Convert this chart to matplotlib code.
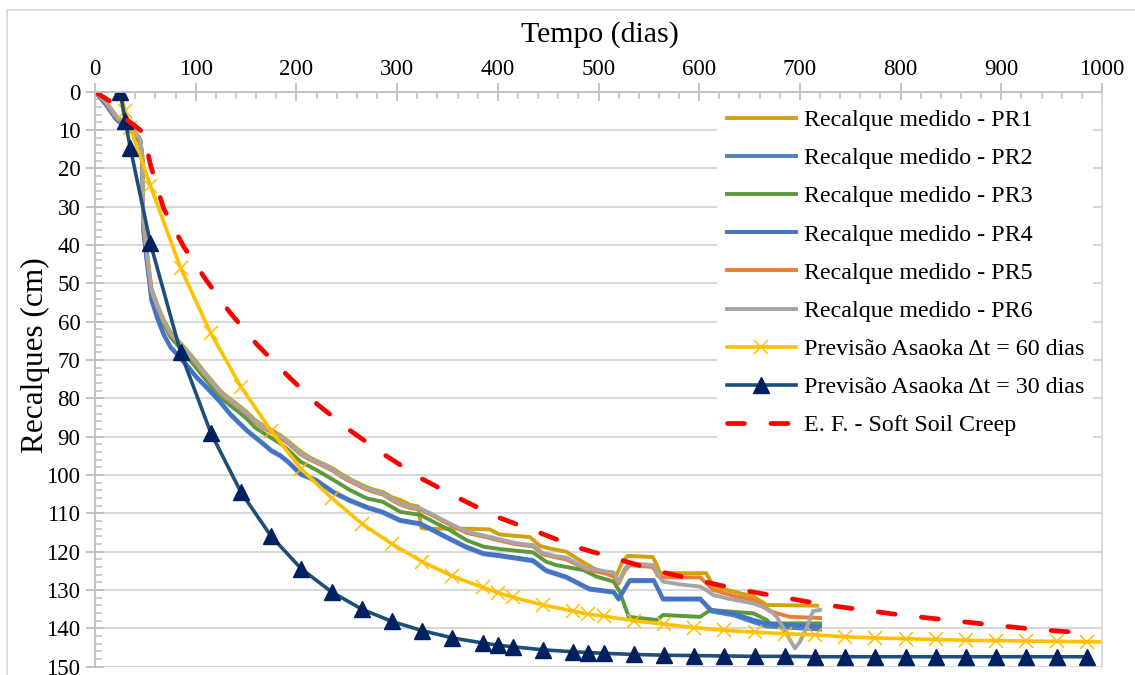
import matplotlib
matplotlib.use("Agg")
import matplotlib.pyplot as plt
from matplotlib.ticker import MultipleLocator
from matplotlib.patches import Rectangle

plt.rcParams['font.family'] = ['Liberation Serif', 'DejaVu Serif']

# ---------------- dados ----------------
# Recalque medido - PR6 (cinza)
t_pr6 = [0, 10, 21, 30, 38, 45, 47, 48, 51, 56, 62, 68, 75, 84, 92, 101, 109, 117, 125, 134,
         142, 151, 159, 167, 175, 184, 192, 204, 212, 220, 228, 237, 245, 253, 262, 270, 278, 286,
         295, 303, 313, 323, 336, 352, 369, 385, 402, 419, 435, 445, 458, 468, 478, 488, 500, 508,
         515, 520, 526, 531, 545, 554, 559, 564, 580, 601, 607, 614, 630, 654, 662, 670, 677, 683,
         689, 695, 700, 707, 713, 720]
r_pr6 = [0, 2.5, 6.5, 8.5, 10, 12.6, 17, 34, 41, 51.7, 56, 59.6, 63, 65.6, 68, 70.9, 73.5, 76, 78.5, 80.4,
         82, 83.9, 86, 87.4, 88.5, 90, 91.5, 94.3, 95.5, 96.5, 97.5, 98.7, 100.2, 101.3, 102.5, 103.5, 104.2, 104.8,
         106.3, 107.4, 108.3, 108.7, 110.4, 112.6, 114.8, 115.7, 116.8, 117.8, 118.3, 120.4, 121.2, 121.5, 123, 124.3, 124.8, 125.2,
         125.4, 127.8, 124.5, 123, 123.3, 123.5, 126, 127.8, 128.5, 129.1, 130, 131.3, 132.3, 133.5, 134.3, 135.2, 137, 139.6,
         142.5, 145.2, 143.5, 139.6, 135.5, 135.2]

# Recalque medido - PR1 (dourado)
t_pr1 = [0, 10, 21, 30, 38, 45, 47, 48, 51, 56, 62, 68, 75, 84, 92, 101, 109, 117, 125, 134,
         142, 151, 159, 167, 175, 184, 192, 204, 212, 220, 228, 237, 245, 253, 262, 270, 278, 286,
         295, 303, 313, 321, 324, 330, 369, 392, 402, 432, 442, 452, 468, 478, 495, 505, 518, 523,
         529, 554, 558, 561, 607, 614, 631, 654, 667, 717]
r_pr1 = [0, 2.3, 6.3, 8.3, 9.8, 12.4, 16.5, 33.5, 40.5, 51.3, 55.6, 59.3, 62.7, 65.3, 67.7, 70.5, 73.2, 75.7, 78.2, 80.1,
         81.7, 83.6, 85.7, 87, 88.2, 89.6, 91.2, 93.8, 95.2, 96.3, 97.2, 98.4, 99.8, 101, 102.2, 103.2, 103.9, 104.4,
         105.8, 106.5, 107.8, 108.2, 113.8, 114, 114, 114.2, 115.5, 116.2, 118.5, 119.2, 120, 121.7, 124.3, 125.4, 126.1, 123,
         121.1, 121.4, 123.5, 125.6, 125.6, 129, 130.2, 131.7, 133.9, 134.1]

# Recalque medido - PR5 (laranja)
t_pr5 = [0, 10, 21, 30, 38, 45, 47, 48, 51, 56, 62, 68, 75, 84, 92, 101, 109, 117, 125, 134,
         142, 151, 159, 167, 175, 184, 192, 204, 212, 220, 228, 237, 245, 253, 262, 270, 278, 286,
         295, 303, 313, 323, 336, 352, 369, 385, 402, 419, 435, 445, 458, 468, 478, 488, 500, 508,
         515, 520, 526, 531, 545, 554, 559, 564, 601, 614, 634, 654, 670, 683, 690, 720]
r_pr5 = [0, 2.6, 6.7, 8.7, 10.2, 12.8, 17.3, 34.3, 41.3, 52, 56.3, 59.9, 63.3, 65.9, 68.3, 71.2, 73.8, 76.3, 78.8, 80.7,
         82.3, 84.2, 86.3, 87.7, 88.8, 90.3, 91.8, 94.6, 95.8, 96.8, 97.8, 99, 100.5, 101.6, 102.8, 103.8, 104.5, 105.1,
         106.6, 107.7, 108.6, 109, 110.7, 112.9, 115.1, 116, 117.1, 118.1, 118.6, 120.7, 121.5, 122, 123.3, 124.6, 125.3, 125.8,
         126.5, 128.3, 125, 123.5, 123.8, 124, 126.3, 126.7, 126.7, 130, 131.5, 132.6, 135.5, 136.5, 137, 137.3]

# Recalque medido - PR3 (verde)
t_pr3 = [0, 10, 21, 30, 38, 45, 47, 48, 51, 56, 62, 68, 75, 84, 92, 101, 109, 117, 125, 134,
         142, 151, 159, 167, 175, 184, 192, 204, 220, 237, 253, 270, 286, 303, 323, 336, 352, 369,
         386, 402, 435, 448, 458, 485, 498, 515, 521, 530, 558, 564, 601, 611, 654, 667, 670, 720]
r_pr3 = [0, 2.7, 6.8, 8.8, 10.3, 12.9, 17.5, 35, 42, 52.8, 57, 60.6, 64, 66.7, 69.2, 72.2, 74.8, 77.3, 79.8, 81.8,
         83.4, 85.4, 87.6, 89, 90.3, 91.8, 93.5, 96.5, 98.7, 101.3, 103.9, 106.1, 107, 109.6, 110.4, 112.2, 114.3, 117,
         118.7, 119.3, 120.2, 122.6, 123.5, 124.8, 126.5, 127.8, 130.4, 137, 137.8, 136.5, 137, 135.2, 136.1, 137.8, 138.7, 138.7]

# Recalque medido - PR4 (azul)
t_pr4 = [0, 10, 21, 30, 38, 45, 47, 48, 51, 56, 62, 68, 75, 84, 92, 101, 109, 117, 125, 134,
         142, 151, 159, 167, 175, 184, 192, 204, 220, 237, 253, 270, 286, 303, 323, 336, 352, 369,
         386, 402, 435, 448, 468, 491, 515, 520, 531, 555, 564, 601, 612, 634, 654, 667, 720]
r_pr4 = [0, 3, 7, 9, 10.5, 13, 18, 36, 43, 54, 59, 63, 66.5, 69.1, 71.5, 74.4, 76.5, 78.7, 81, 83.9,
         86, 88.3, 90, 91.7, 93.5, 94.8, 96.5, 99.6, 101.3, 104.4, 106.5, 108.3, 109.6, 111.7, 112.6, 114.3, 116.5, 118.7,
         120.4, 120.9, 122.2, 124.8, 126.5, 129.6, 130.4, 132.2, 127.4, 127.4, 132.2, 132.2, 135.2, 136.1, 137.8, 138.7, 139.6]

# Recalque medido - PR2 (azul aco), quase sob o PR4
t_pr2 = [0, 10, 21, 30, 38, 45, 47, 48, 51, 56, 62, 68, 75, 84, 92, 101, 109, 117, 125, 134,
         142, 151, 159, 167, 175, 184, 192, 204, 220, 237, 253, 270, 286, 303, 323, 336, 352, 369,
         386, 402, 435, 448, 468, 491, 515, 520, 531, 555, 564, 601, 612, 634, 654, 667, 720]
r_pr2 = [0, 3.2, 7.3, 9.3, 10.8, 13.3, 18.5, 36.5, 43.5, 54.5, 59.4, 63.4, 66.8, 69.4, 71.8, 74.7, 76.8, 79, 81.3, 84.2,
         86.3, 88.6, 90.3, 92, 93.8, 95.1, 96.8, 99.9, 101.6, 104.7, 106.8, 108.6, 109.9, 112, 112.9, 114.6, 116.8, 119,
         120.7, 121.2, 122.5, 125.1, 126.8, 129.9, 130.7, 132.5, 127.7, 127.7, 132.5, 132.5, 135.6, 136.6, 138.4, 139.5, 140.3]

# Previsao Asaoka dt = 60 dias
t_a60 = [25, 30, 35, 55, 85, 115, 145, 175, 205, 235, 265, 295, 325, 355, 385, 400, 415, 445,
         475, 490, 505, 535, 565, 595, 625, 655, 685, 715, 745, 775, 805, 835, 865, 895, 925,
         955, 985, 1000]
r_a60 = [0, 5, 9.5, 24.5, 46, 63, 77, 88.5, 98.5, 106, 112.7, 118, 122.6, 126.4, 129.3, 130.7, 131.9, 133.9,
         135.5, 136.3, 136.8, 138, 138.9, 139.8, 140.5, 141, 141.4, 141.7, 142.2, 142.5, 142.7, 142.9, 143.1, 143.2, 143.3,
         143.4, 143.5, 143.5]

# Previsao Asaoka dt = 30 dias
t_a30 = [25, 30, 35, 55, 85, 115, 145, 175, 205, 235, 265, 295, 325, 355, 385, 400, 415, 445,
         475, 490, 505, 535, 565, 595, 625, 655, 685, 715, 745, 775, 805, 835, 865, 895, 925,
         955, 985]
r_a30 = [0, 7.6, 14.6, 39.5, 68, 89, 104.5, 116, 124.5, 130.5, 135, 138.2, 140.6, 142.5, 143.8, 144.4, 144.8, 145.6,
         146.1, 146.3, 146.5, 146.8, 147, 147.1, 147.2, 147.3, 147.3, 147.4, 147.4, 147.4, 147.4, 147.4, 147.4, 147.4, 147.4,
         147.4, 147.4]

# E. F. - Soft Soil Creep
t_ef = [0, 15, 30, 45, 50, 55, 68, 88, 110, 134, 161, 191, 221, 254, 288, 324, 361, 399, 439, 478,
        520, 561, 601, 642, 683, 726, 800, 898, 931, 988]
r_ef = [0, 2.5, 7, 10, 13, 19, 30.4, 40.4, 49, 57.6, 66, 74, 81.6, 88.5, 94.8, 100.9, 106, 110.9, 114.8, 118.8,
        122, 125.2, 127.6, 130, 131.9, 133.9, 136.5, 139.3, 140.2, 141.3]

# --------------------------------------------------------
W, H = 1135, 675
fig = plt.figure(figsize=(W / 100, H / 100), dpi=100)
ax = fig.add_axes([95 / W, 8.3 / H, (1102 - 95) / W, (666.7 - 91.7) / H])

lw_m = 2.8
ax.plot(t_pr1, r_pr1, color='#D4A010', lw=lw_m, label='Recalque medido - PR1')
ax.plot(t_pr2, r_pr2, color='#4F81BD', lw=lw_m, label='Recalque medido - PR2')
ax.plot(t_pr3, r_pr3, color='#5B9A3C', lw=lw_m, label='Recalque medido - PR3')
ax.plot(t_pr4, r_pr4, color='#4472C4', lw=lw_m, label='Recalque medido - PR4')
ax.plot(t_pr5, r_pr5, color='#ED7D31', lw=lw_m, label='Recalque medido - PR5')
ax.plot(t_pr6, r_pr6, color='#A5A5A5', lw=lw_m, label='Recalque medido - PR6')
ax.plot(t_a60, r_a60, color='#FFC000', lw=2.6, marker='x', ms=10, mew=1.1,
        markevery=list(range(len(t_a60) - 1)), label='Previsão Asaoka Δt = 60 dias')
ax.plot(t_a30, r_a30, color='#1F4E79', lw=2.6, marker='^', ms=11, mfc='#002060', mec='#002060',
        label='Previsão Asaoka Δt = 30 dias')
ax.plot(t_ef, r_ef, color='#FF0000', lw=3.4, dashes=(3.6, 5.6), dash_capstyle='round',
        label='E. F. - Soft Soil Creep')

ax.set_xlim(0, 1000)
ax.set_ylim(150, 0)
ax.xaxis.set_major_locator(MultipleLocator(100))
ax.xaxis.set_minor_locator(MultipleLocator(20))
ax.yaxis.set_major_locator(MultipleLocator(10))
ax.yaxis.set_minor_locator(MultipleLocator(2))
ax.tick_params(axis='x', top=True, bottom=False, labeltop=True, labelbottom=False, which='both')
ax.tick_params(which='major', direction='inout', length=13, width=1.3, color='#BFBFBF', labelsize=16.5)
ax.tick_params(which='minor', direction='in', length=5, width=1.1, color='#BFBFBF')
ax.tick_params(axis='x', which='major', pad=2)
ax.tick_params(axis='y', which='major', pad=4)

ax.yaxis.grid(True, color='#D9D9D9', lw=1.5)
ax.set_axisbelow(True)
for s in ['left', 'top']:
    ax.spines[s].set_color('#BFBFBF')
    ax.spines[s].set_linewidth(1.3)
ax.spines['right'].set_color('#D9D9D9')
ax.spines['right'].set_linewidth(1.3)
ax.spines['bottom'].set_visible(False)

fig.text(600 / W, 1 - 35 / H, 'Tempo (dias)', ha='center', va='center', fontsize=21.5)
fig.text(35 / W, 1 - 355 / H, 'Recalques (cm)', ha='center', va='center', rotation=90, fontsize=22.5)

leg = ax.legend(loc='upper left', bbox_to_anchor=((717 - 95) / (1102 - 95), 1 - 8 / 575),
                frameon=True, facecolor='white', edgecolor='none', framealpha=1, fancybox=False,
                fontsize=17.3, handlelength=2.9, handletextpad=0.3, labelspacing=0.68,
                borderaxespad=0, borderpad=0.4)

fig.patches.append(Rectangle((7 / W, -0.1), 1.2, 1 - 10 / H + 0.1, transform=fig.transFigure,
                             fill=False, ec='#D9D9D9', lw=1.3))

fig.savefig('out.png', dpi=100)
